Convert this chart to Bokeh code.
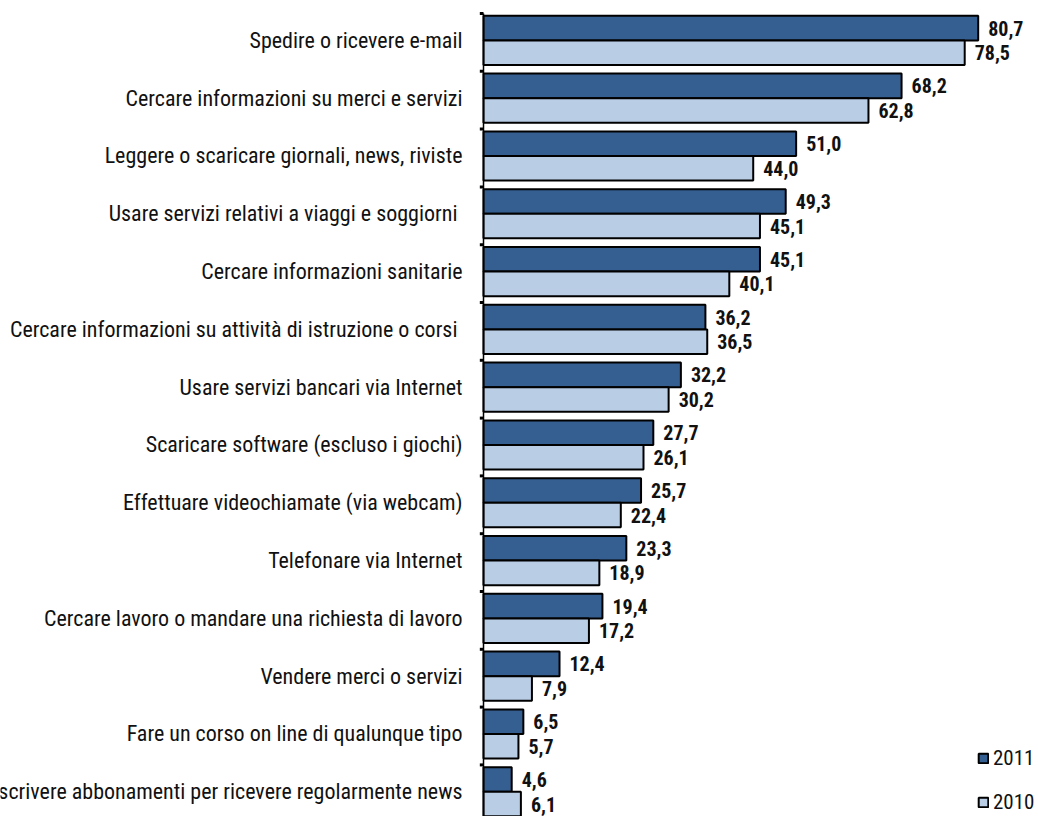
from bokeh.plotting import figure
from bokeh.models import ColumnDataSource, Range1d, Legend, LegendItem
from bokeh.core.properties import value
from bokeh.embed import file_html
from bokeh.resources import INLINE

categories = [
    "Spedire o ricevere e-mail",
    "Cercare informazioni su merci e servizi",
    "Leggere o scaricare giornali, news, riviste",
    "Usare servizi relativi a viaggi e soggiorni ",
    "Cercare informazioni sanitarie",
    "Cercare informazioni su attività di istruzione o corsi ",
    "Usare servizi bancari via Internet",
    "Scaricare software (escluso i giochi)",
    "Effettuare videochiamate (via webcam)",
    "Telefonare via Internet",
    "Cercare lavoro o mandare una richiesta di lavoro",
    "Vendere merci o servizi",
    "Fare un corso on line di qualunque tipo",
    "Sottoscrivere abbonamenti per ricevere regolarmente news",
]
values_2011 = [80.7, 68.2, 51.0, 49.3, 45.1, 36.2, 32.2, 27.7, 25.7, 23.3, 19.4, 12.4, 6.5, 4.6]
values_2010 = [78.5, 62.8, 44.0, 45.1, 40.1, 36.5, 30.2, 26.1, 22.4, 18.9, 17.2, 7.9, 5.7, 6.1]
series_names = ["2011", "2010"]

C2011 = "#365F91"
C2010 = "#B9CDE5"
FONT = "Roboto Condensed"

n = len(categories)
idx = list(range(n))
BAR_H = 0.425
y2011 = [i + 0.04 + BAR_H / 2 for i in idx]
y2010 = [i + 0.04 + BAR_H * 1.5 for i in idx]
ycat = [i + 0.465 for i in idx]

def fmt(v):
    return f"{v:.1f}".replace(".", ",")

src11 = ColumnDataSource(dict(y=y2011, v=values_2011, t=[fmt(v) for v in values_2011]))
src10 = ColumnDataSource(dict(y=y2010, v=values_2010, t=[fmt(v) for v in values_2010]))
srccat = ColumnDataSource(dict(y=ycat, x=[0] * n, t=categories))
bounds = list(range(n + 1))
srcb = ColumnDataSource(dict(y=bounds, x0=[0] * (n + 1), x1=[-0.6] * (n + 1)))

W, H = 1038, 816
px_per_unit_x = 6.13
x0_px = 483
px_per_unit_y = 57.8
y0_px = 13

p = figure(width=W, height=H, output_backend="svg", toolbar_location=None,
           x_range=Range1d(-x0_px / px_per_unit_x, (W - x0_px) / px_per_unit_x),
           y_range=Range1d((H - y0_px) / px_per_unit_y, -y0_px / px_per_unit_y),
           min_border=0, x_axis_location=None, y_axis_location=None)
p.outline_line_color = None
p.grid.visible = False
p.background_fill_color = "white"
p.border_fill_color = "white"

# axis ticks at category boundaries
p.segment(x0="x0", y0="y", x1="x1", y1="y", source=srcb, line_color="black", line_width=3)

r11 = p.hbar(y="y", right="v", left=0, height=BAR_H, source=src11,
             fill_color=C2011, line_color="black", line_width=2)
r10 = p.hbar(y="y", right="v", left=0, height=BAR_H, source=src10,
             fill_color=C2010, line_color="black", line_width=2)

# axis line
p.segment(x0=[0], y0=[0], x1=[0], y1=[n + 1], line_color="black", line_width=1.5)

for s in (src11, src10):
    p.text(x="v", y="y", text="t", source=s, x_offset=10, text_baseline="middle",
           text_font=value(FONT), text_font_style="bold", text_font_size="20px",
           text_color="#111111")

p.text(x="x", y="y", text="t", source=srccat, x_offset=-21, text_align="right",
       text_baseline="middle", text_font=value(FONT), text_font_size="22px",
       text_color="#111111")

legend = Legend(items=[LegendItem(label=series_names[0], renderers=[r11]),
                       LegendItem(label=series_names[1], renderers=[r10])],
                location=(977, 2), padding=0, margin=0, spacing=20,
                glyph_width=12, glyph_height=12, label_height=20, label_standoff=4,
                label_text_font=FONT, label_text_font_size="21px", label_text_color="#111111",
                border_line_color=None, background_fill_alpha=0)
p.add_layout(legend)

open("out.html", "w").write(file_html(p, INLINE))
